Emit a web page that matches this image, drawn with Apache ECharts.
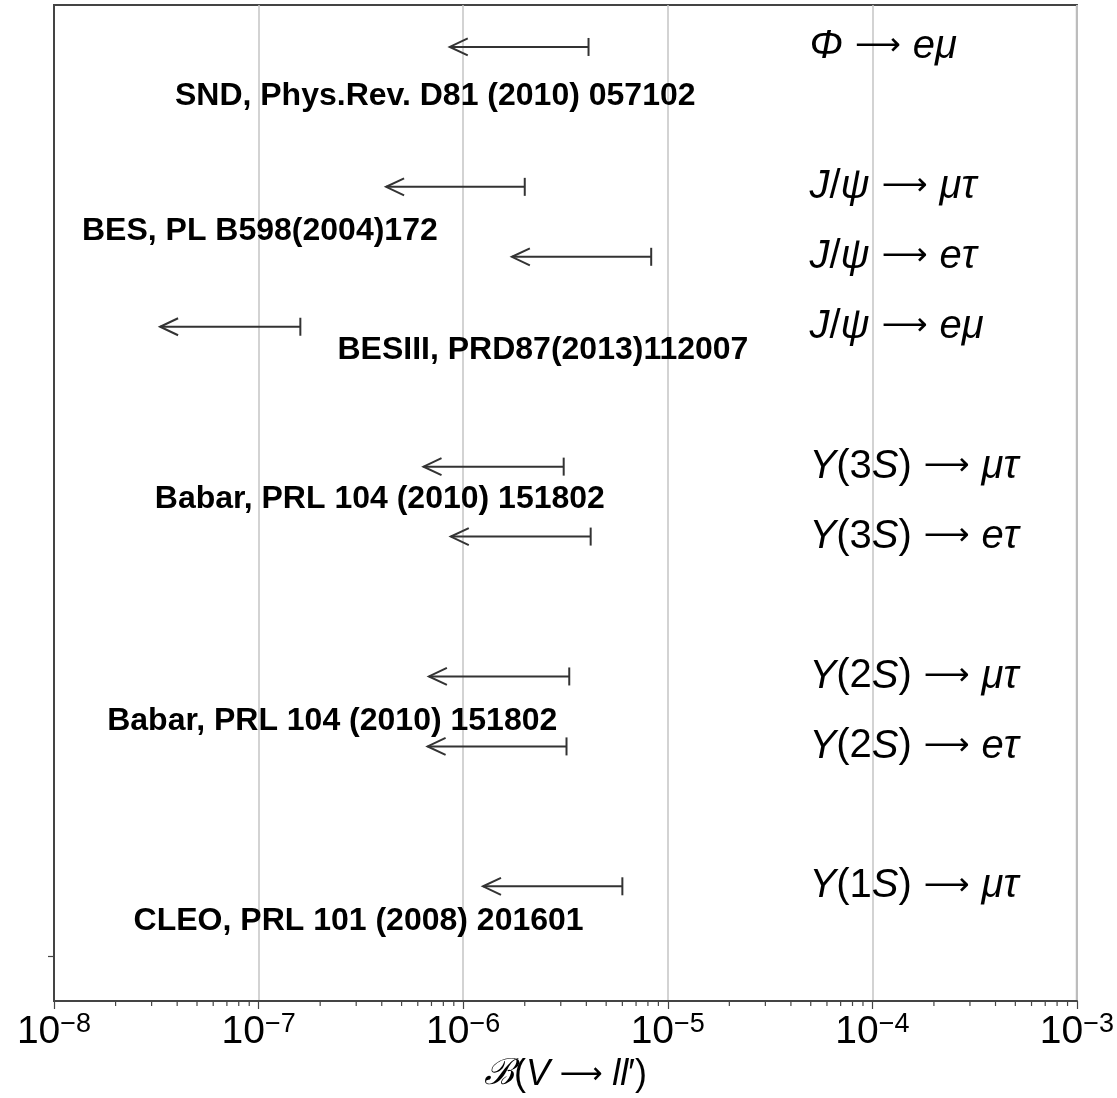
<!DOCTYPE html>
<html>
<head>
<meta charset="utf-8">
<style>
  html, body { margin: 0; padding: 0; background: #fff; }
  #chart { width: 1117px; height: 1098px; }
</style>
<script src="https://cdn.jsdelivr.net/npm/echarts@6/dist/echarts.min.js"></script>
</head>
<body>
<div id="chart"></div>
<script>
// Lepton-flavour-violating vector meson decays: 90% CL upper limits on B(V -> l l')
const rowPositions = [13, 11, 10, 9, 7, 6, 4, 3, 1];
const parents = ['Φ', 'J/ψ', 'J/ψ', 'J/ψ', 'Y(3S)', 'Y(3S)', 'Y(2S)', 'Y(2S)', 'Y(1S)'];
const finalStates = ['eμ', 'μτ', 'eτ', 'eμ', 'μτ', 'eτ', 'μτ', 'eτ', 'μτ'];
const upperLimits = [4.1e-6, 2.0e-6, 8.3e-6, 1.6e-7, 3.1e-6, 4.2e-6, 3.3e-6, 3.2e-6, 6.0e-6];
const arrowTips = [8.6e-7, 4.2e-7, 1.73e-6, 3.3e-8, 6.4e-7, 8.7e-7, 6.8e-7, 6.7e-7, 1.25e-6];

const experiments = [
  'SND, Phys.Rev. D81 (2010) 057102',
  'BES, PL B598(2004)172',
  'BESIII, PRD87(2013)112007',
  'Babar, PRL 104 (2010) 151802',
  'Babar, PRL 104 (2010) 151802',
  'CLEO, PRL 101 (2008) 201601'
];

const tickExponents = [-8, -7, -6, -5, -4, -3];

// where each text block is anchored (data coordinates: x on the log axis, y row)
const experimentAnchors = [
  [3.9e-8, 12.3], [1.37e-8, 10.36], [2.43e-7, 8.66],
  [3.11e-8, 6.54], [1.82e-8, 3.36], [2.45e-8, 0.5]
];
const decayLabelX = 4.93e-5;

const xMin = Math.pow(10, tickExponents[0]);
const xMax = Math.pow(10, tickExponents[tickExponents.length - 1]);
const yMin = -0.64, yMax = 13.6;

// minor log ticks 2..9 in every decade
const minorTicks = [];
for (let e = tickExponents[0]; e < tickExponents[tickExponents.length - 1]; e++) {
  for (let m = 2; m <= 9; m++) minorTicks.push([m * Math.pow(10, e)]);
}

const AXIS = '#444';
const INK = '#000';

function decayRich(parent, fin) {
  let s = '';
  for (const ch of parent) {
    if (/[A-Za-zΦψ]/.test(ch)) s += '{i|' + ch + '}';
    else s += '{n|' + ch + '}';
  }
  s += '{a|⟶}';
  for (const ch of fin) s += '{i|' + ch + '}';
  return s;
}

const chart = echarts.init(document.getElementById('chart'), null, { renderer: 'canvas' });

const option = {
  animation: false,
  backgroundColor: '#fff',
  grid: {
    left: 54, right: 38, top: 5, bottom: 96,
    show: true, borderColor: AXIS, borderWidth: 2, backgroundColor: 'transparent'
  },
  xAxis: {
    type: 'log',
    logBase: 10,
    min: xMin,
    max: xMax,
    axisLine: { show: true, onZero: false, lineStyle: { color: AXIS, width: 2 } },
    axisTick: { show: true, length: 8, lineStyle: { color: AXIS, width: 1.2 } },
    splitLine: { show: true, lineStyle: { color: '#c4c4c4', width: 1.5 } },
    axisLabel: {
      margin: 10,
      formatter: function (v) {
        const e = Math.round(Math.log10(v));
        return '{b|10}{s|−' + Math.abs(e) + '}';
      },
      rich: {
        b: { fontFamily: 'Liberation Sans', fontSize: 39, lineHeight: 42, color: INK },
        s: { fontFamily: 'Liberation Sans', fontSize: 27, lineHeight: 22, color: INK, verticalAlign: 'top' }
      }
    },
    name: '{c|ℬ}{n|(}{i|V}{a| ⟶ }{i|ll}{n|′)}',
    nameLocation: 'middle',
    nameGap: 56,
    nameTextStyle: {
      rich: {
        c: { fontFamily: 'DejaVu Serif', fontStyle: 'italic', fontSize: 36, color: INK },
        n: { fontFamily: 'Liberation Sans', fontSize: 36, color: INK },
        i: { fontFamily: 'Liberation Sans', fontStyle: 'italic', fontSize: 36, color: INK },
        a: { fontFamily: 'DejaVu Sans', fontSize: 30, color: INK }
      }
    }
  },
  yAxis: {
    type: 'value',
    min: yMin,
    max: yMax,
    axisLine: { show: true, onZero: false, lineStyle: { color: AXIS, width: 2 } },
    axisTick: { show: true, length: 6, customValues: [0], lineStyle: { color: AXIS, width: 1.2 } },
    axisLabel: { show: false },
    splitLine: { show: false }
  },
  series: [
    {
      // minor ticks below the log axis
      type: 'custom',
      silent: true,
      clip: false,
      data: minorTicks,
      renderItem: function (params, api) {
        const p = api.coord([api.value(0), yMin]);
        return {
          type: 'line',
          shape: { x1: p[0], y1: p[1] + 1, x2: p[0], y2: p[1] + 5 },
          style: { stroke: AXIS, lineWidth: 1.2 }
        };
      }
    },
    {
      // upper-limit arrows: bar at the limit, open arrowhead pointing to smaller values
      type: 'custom',
      silent: true,
      clip: false,
      data: rowPositions.map((y, i) => [arrowTips[i], upperLimits[i], y]),
      renderItem: function (params, api) {
        const a = api.coord([api.value(0), api.value(2)]);
        const b = api.coord([api.value(1), api.value(2)]);
        const st = { stroke: '#333', lineWidth: 2, fill: null };
        return {
          type: 'group',
          children: [
            { type: 'line', shape: { x1: a[0], y1: a[1], x2: b[0], y2: b[1] }, style: st },
            { type: 'line', shape: { x1: b[0], y1: b[1] - 9, x2: b[0], y2: b[1] + 9 }, style: st },
            {
              type: 'polyline',
              shape: { points: [[a[0] + 18, a[1] - 8.5], [a[0], a[1]], [a[0] + 18, a[1] + 8.5]] },
              style: st
            }
          ]
        };
      }
    },
    {
      // experiment references
      type: 'scatter',
      silent: true,
      symbolSize: 0,
      itemStyle: { opacity: 1 },
      data: experiments.map((t, i) => ({ value: experimentAnchors[i], name: t })),
      label: {
        show: true,
        position: 'right',
        distance: 0,
        formatter: p => p.name,
        fontFamily: 'Liberation Sans',
        fontWeight: 'bold',
        fontSize: 32,
        color: INK
      }
    },
    {
      // decay channel names
      type: 'scatter',
      silent: true,
      symbolSize: 0,
      itemStyle: { opacity: 1 },
      data: rowPositions.map((y, i) => ({ value: [decayLabelX, y], name: decayRich(parents[i], finalStates[i]) })),
      label: {
        show: true,
        position: 'right',
        distance: 0,
        formatter: p => p.name,
        rich: {
          i: { fontFamily: 'Liberation Sans', fontStyle: 'italic', fontSize: 40, color: INK },
          n: { fontFamily: 'Liberation Sans', fontSize: 40, color: INK },
          a: { fontFamily: 'DejaVu Sans', fontSize: 32, color: INK, padding: [0, 12, 0, 12] }
        }
      }
    }
  ]
};

chart.setOption(option);
</script>
</body>
</html>
